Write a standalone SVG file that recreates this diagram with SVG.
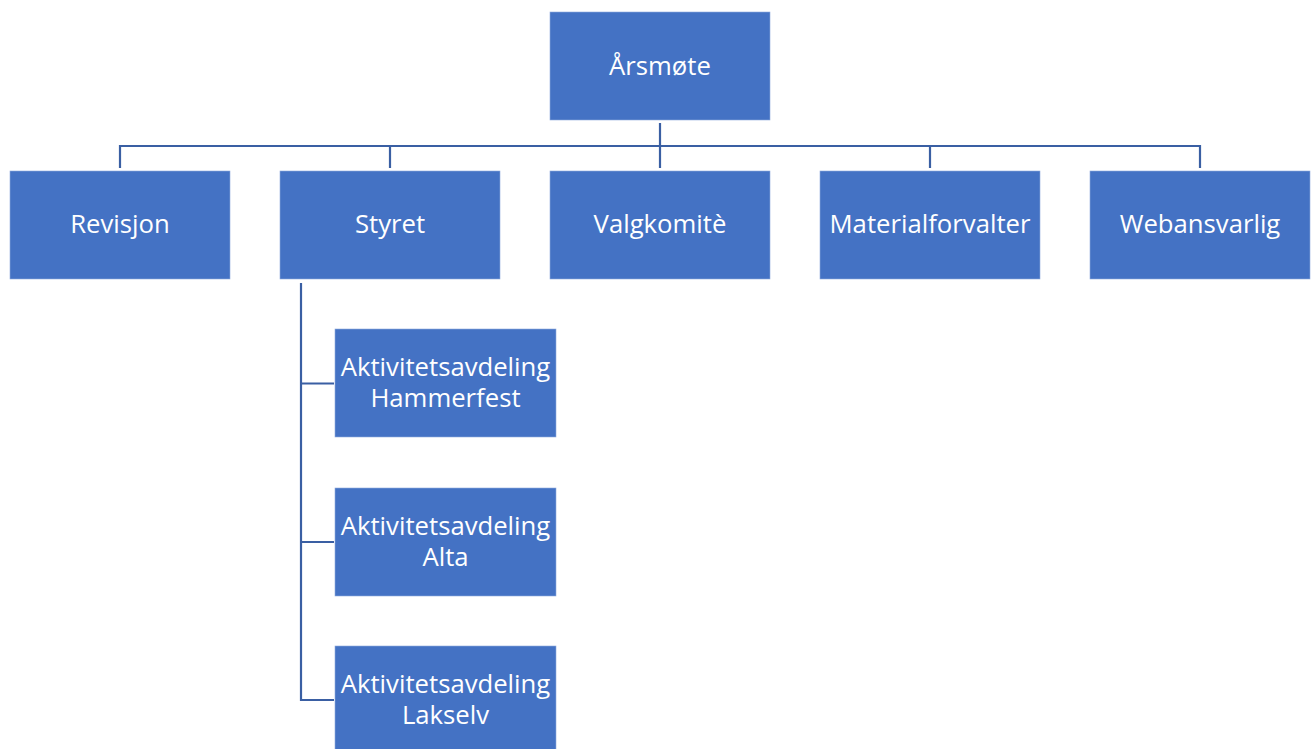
<svg xmlns="http://www.w3.org/2000/svg" width="1315" height="749" viewBox="0 0 1315 749">
<style>
.box{fill:#4472C4;stroke:#8FAADC;stroke-width:0.6}
.lbl{font-family:"Open Sans","Liberation Sans",sans-serif;font-size:25.7px;fill:#FFFFFF;text-anchor:middle}
.con{fill:none;stroke:#3A5FA3;stroke-width:2.2}
</style>
<rect width="1315" height="749" fill="#FFFFFF"/>
<g id="connectors">
<path class="con" d="M660,123 V168"/>
<path class="con" d="M120,168 V146 H1200 V168"/>
<path class="con" d="M390,146 V168"/>
<path class="con" d="M930,146 V168"/>
<path class="con" d="M301,283 V700 H334"/>
<path class="con" d="M301,383.5 H334"/>
<path class="con" d="M301,542 H334"/>
</g>
<g id="aarsmote"><rect class="box" x="550" y="12" width="220" height="108"/><text class="lbl" x="660" y="75">Årsmøte</text></g>
<g id="revisjon"><rect class="box" x="10" y="171" width="220" height="108"/><text class="lbl" x="120" y="233">Revisjon</text></g>
<g id="styret"><rect class="box" x="280" y="171" width="220" height="108"/><text class="lbl" x="390" y="233">Styret</text></g>
<g id="valgkomite"><rect class="box" x="550" y="171" width="220" height="108"/><text class="lbl" x="660" y="233">Valgkomitè</text></g>
<g id="materialforvalter"><rect class="box" x="820" y="171" width="220" height="108"/><text class="lbl" x="930" y="233">Materialforvalter</text></g>
<g id="webansvarlig"><rect class="box" x="1090" y="171" width="220" height="108"/><text class="lbl" x="1200" y="233">Webansvarlig</text></g>
<g id="hammerfest"><rect class="box" x="335" y="329" width="221" height="108"/><text class="lbl" x="445.5" y="376">Aktivitetsavdeling</text><text class="lbl" x="445.5" y="407">Hammerfest</text></g>
<g id="alta"><rect class="box" x="335" y="488" width="221" height="108"/><text class="lbl" x="445.5" y="535">Aktivitetsavdeling</text><text class="lbl" x="445.5" y="566">Alta</text></g>
<g id="lakselv"><rect class="box" x="335" y="646" width="221" height="108"/><text class="lbl" x="445.5" y="693">Aktivitetsavdeling</text><text class="lbl" x="445.5" y="724">Lakselv</text></g>
</svg>
